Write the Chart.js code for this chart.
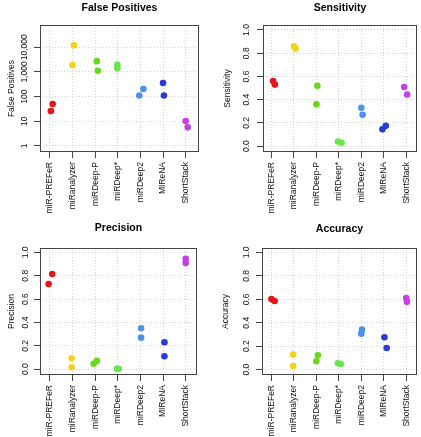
<!DOCTYPE html>
<html>
<head>
<meta charset="utf-8">
<script src="https://cdn.jsdelivr.net/npm/chart.js@4.4.1/dist/chart.umd.min.js"></script>
<style>
html, body { margin: 0; padding: 0; background: #fff; }
#wrap { position: relative; width: 421px; height: 437px; }
canvas { position: absolute; }
</style>
</head>
<body>
<div id="wrap">
  <canvas id="c1" width="210" height="218" style="left:0;top:0"></canvas>
  <canvas id="c2" width="211" height="218" style="left:210px;top:0"></canvas>
  <canvas id="c3" width="210" height="219" style="left:0;top:218px"></canvas>
  <canvas id="c4" width="211" height="219" style="left:210px;top:218px"></canvas>
</div>
<script>
const tools = ['miR-PREFeR', 'miRanalyzer', 'miRDeep-P', 'miRDeep*', 'miRDeep2', 'MIReNA', 'ShortStack'];
const colors = ['#e8141a', '#f2d31b', '#66d918', '#66e84d', '#4b93ea', '#2b3bd8', '#c43fe6'];

// two runs per tool, x is the jittered category position
const fpValues = [[50, 26], [12000, 1900], [2750, 1120], [1950, 1400], [112, 203], [355, 112], [10.3, 5.7]];
const fpJitter = [[1.12, 1.04], [2.06, 2.0], [3.07, 3.12], [3.98, 3.98], [4.95, 5.13], [6.0, 6.04], [7.0, 7.09]];

const sensValues = [[0.56, 0.53], [0.86, 0.84], [0.52, 0.36], [0.04, 0.03], [0.33, 0.27], [0.145, 0.175], [0.51, 0.445]];
const sensJitter = [[1.07, 1.15], [2.0, 2.07], [3.04, 3.0], [3.96, 4.12], [5.0, 5.06], [5.94, 6.09], [6.91, 7.04]];

const precValues = [[0.73, 0.815], [0.094, 0.017], [0.046, 0.071], [0.003, 0.003], [0.35, 0.27], [0.23, 0.11], [0.945, 0.91]];
const precJitter = [[0.94, 1.10], [1.96, 1.96], [2.93, 3.07], [3.96, 4.04], [5.03, 5.03], [6.06, 6.06], [7.0, 7.0]];

const accValues = [[0.602, 0.585], [0.128, 0.031], [0.122, 0.071], [0.054, 0.048], [0.307, 0.341], [0.276, 0.185], [0.611, 0.58]];
const accJitter = [[1.0, 1.14], [1.97, 1.97], [3.07, 3.0], [3.96, 4.09], [5.0, 5.03], [6.03, 6.13], [7.0, 7.03]];

const fpTicks = [1, 10, 100, 1000, 10000];
const rateTicks = [0, 0.2, 0.4, 0.6, 0.8, 1.0];

const FAMILY = "'Liberation Sans', Arial, Helvetica, sans-serif";
const measure = document.createElement('canvas').getContext('2d');
measure.font = '8.5px ' + FAMILY;

const boxPlugin = {
    id: 'box',
    beforeDatasetsDraw(chart) {
        const a = chart.chartArea, c = chart.ctx;
        c.save();
        c.strokeStyle = '#444';
        c.lineWidth = 1;
        c.strokeRect(Math.round(a.left) + 0.5, Math.round(a.top) + 0.5,
            Math.round(a.right - a.left) - 1, Math.round(a.bottom - a.top) - 1);
        c.restore();
    }
};

function makePanel(id, p) {
    const cv = document.getElementById(id);
    const W = cv.width, H = cv.height;
    const tickFont = { family: FAMILY, size: 8.5 };
    const widest = Math.max(...p.yTicks.map(v => measure.measureText(p.fmt(v)).width));

    const datasets = tools.map((name, i) => ({
        label: name,
        data: p.values[i].map((v, k) => ({ x: p.jitter[i][k], y: v })),
        backgroundColor: colors[i],
        borderWidth: 0,
        pointRadius: 3.3
    }));

    new Chart(cv, {
        type: 'scatter',
        data: { datasets: datasets },
        plugins: [boxPlugin],
        options: {
            responsive: false,
            animation: false,
            events: [],
            layout: { padding: { left: 0, top: 0, bottom: 0, right: W - p.box.right } },
            plugins: {
                legend: { display: false },
                tooltip: { enabled: false },
                title: {
                    display: true,
                    text: p.title,
                    fullSize: false,
                    color: '#000',
                    font: { family: FAMILY, size: 10.5, weight: 'bold', lineHeight: 1 },
                    padding: { top: p.titleTop, bottom: p.box.top - 10.5 - p.titleTop }
                }
            },
            scales: {
                x: {
                    type: 'linear',
                    min: p.xMin,
                    max: p.xMax,
                    afterBuildTicks: s => { s.ticks = tools.map((t, i) => ({ value: i + 1 })); },
                    afterFit: s => { s.height = H - p.box.bottom; s.paddingLeft = 0; s.paddingRight = 0; },
                    ticks: {
                        autoSkip: false, minRotation: 90, maxRotation: 90, padding: 4,
                        font: tickFont, color: '#111',
                        callback: v => tools[v - 1]
                    },
                    grid: { color: '#d4d4d4', tickColor: '#444', tickLength: 6, tickBorderDash: [] },
                    border: { display: false, dash: [1, 2] }
                },
                y: {
                    type: p.yType,
                    min: p.yMin,
                    max: p.yMax,
                    afterBuildTicks: s => { s.ticks = p.yTicks.map(v => ({ value: v })); },
                    afterFit: s => { s.width = p.box.left; s.paddingTop = 0; s.paddingBottom = 0; },
                    ticks: {
                        autoSkip: false, minRotation: 90, maxRotation: 90, crossAlign: 'center',
                        padding: p.tickDist - 6 - widest / 2,
                        font: tickFont, color: '#111',
                        callback: v => p.fmt(v)
                    },
                    title: {
                        display: true, text: p.yTitle, color: '#111',
                        font: { family: FAMILY, size: 8.5 },
                        padding: { top: p.yTitleTop, bottom: 0 }
                    },
                    grid: { color: '#d4d4d4', tickColor: '#444', tickLength: 6, tickBorderDash: [] },
                    border: { display: false, dash: [1, 2] }
                }
            }
        }
    });
}

const fmtCount = v => Number(v).toLocaleString('en-US');
const fmtRate = v => Number(v).toFixed(1);

makePanel('c1', {
    title: 'False Positives', yTitle: 'False Positives',
    values: fpValues, jitter: fpJitter,
    yType: 'logarithmic', yMin: 0.571, yMax: 80100, yTicks: fpTicks, fmt: fmtCount,
    xMin: 0.56, xMax: 7.59,
    box: { left: 40, right: 199, top: 25, bottom: 152 },
    titleTop: 2.5, yTitleTop: 6.9, tickDist: 15
});
makePanel('c2', {
    title: 'Sensitivity', yTitle: 'Sensitivity',
    values: sensValues, jitter: sensJitter,
    yType: 'linear', yMin: -0.05, yMax: 1.043, yTicks: rateTicks, fmt: fmtRate,
    xMin: 0.62, xMax: 7.48,
    box: { left: 53, right: 210, top: 25, bottom: 152 },
    titleTop: 2.5, yTitleTop: 12.9, tickDist: 16.3
});
makePanel('c3', {
    title: 'Precision', yTitle: 'Precision',
    values: precValues, jitter: precJitter,
    yType: 'linear', yMin: -0.05, yMax: 1.038, yTicks: rateTicks, fmt: fmtRate,
    xMin: 0.56, xMax: 7.5,
    box: { left: 40, right: 197, top: 30, bottom: 157 },
    titleTop: 5, yTitleTop: 6.9, tickDist: 14
});
makePanel('c4', {
    title: 'Accuracy', yTitle: 'Accuracy',
    values: accValues, jitter: accJitter,
    yType: 'linear', yMin: -0.046, yMax: 1.038, yTicks: rateTicks, fmt: fmtRate,
    xMin: 0.58, xMax: 7.48,
    box: { left: 52, right: 210, top: 30, bottom: 157 },
    titleTop: 5.5, yTitleTop: 10.9, tickDist: 15.3
});
</script>
</body>
</html>
